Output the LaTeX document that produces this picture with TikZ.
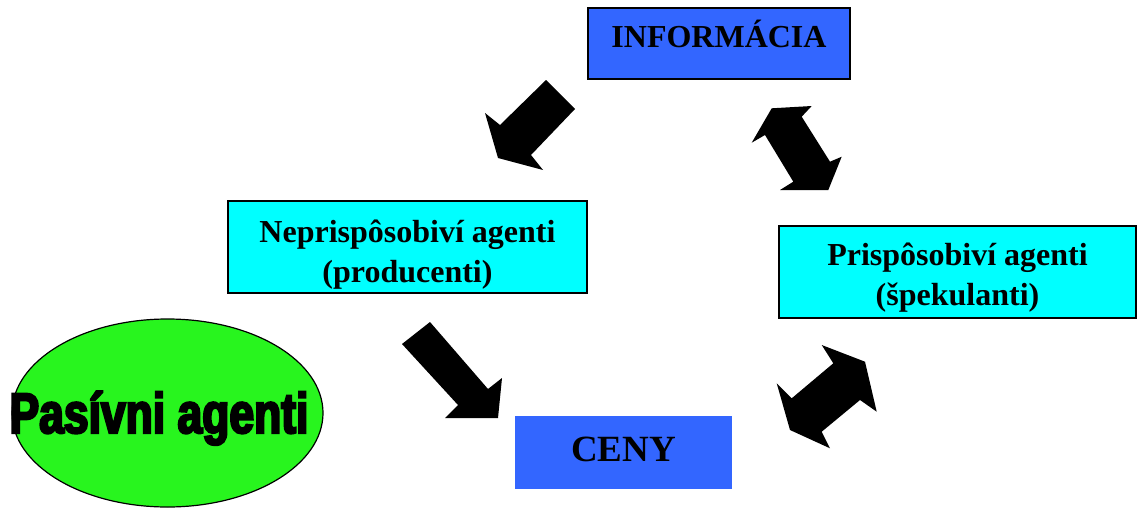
\documentclass[tikz,border=0pt]{standalone}
\usepackage{fontspec}
\setmainfont{Liberation Serif}
\newfontfamily\pasivfont[FakeStretch=0.78,FakeBold=4]{Liberation Sans Bold}
\usepackage{tikz}
\usetikzlibrary{shapes.geometric}
\definecolor{infoblue}{RGB}{51,102,255}
\definecolor{agentcyan}{RGB}{0,255,255}
\definecolor{pasivgreen}{RGB}{40,245,30}

\begin{document}
\begin{tikzpicture}[x=1pt,y=-1pt,semithick,
  box/.style={rectangle,line width=2pt,inner sep=0pt,align=center,
    font=\bfseries\fontsize{32}{40}\selectfont},
  blockarrow/.style={fill=black}]
\useasboundingbox (0,0) rectangle (1139,511);

\node[box,draw=black,fill=infoblue,minimum width=262pt,minimum height=71pt,
  text height=22pt,text depth=13pt] (info) at (719,43.5) {INFORMÁCIA};
\node[box,draw=black,fill=agentcyan,minimum width=359pt,minimum height=92pt,
  text height=75pt,text depth=5pt] (neprisp) at (407.5,247) {Neprispôsobiví agenti\\(producenti)};
\node[box,draw=black,fill=agentcyan,minimum width=357pt,minimum height=92pt,
  text height=71pt,text depth=5pt] (prisp) at (957.5,272) {Prispôsobiví agenti\\(špekulanti)};
\node[box,fill=infoblue,minimum width=217pt,minimum height=73pt,
  text height=25pt,text depth=8pt,font=\bfseries\fontsize{37}{40}\selectfont] (ceny) at (623.5,452.5) {CENY};

\node[ellipse,draw=black,line width=1.2pt,fill=pasivgreen,minimum width=311pt,minimum height=188pt] (pasiv) at (167.5,413) {};
\node[anchor=base,inner sep=0pt,font=\pasivfont\fontsize{57}{60}\selectfont] (pasivtext) at (159,433) {Pasívni agenti};

\fill[blockarrow] (546,80) -- (575,109) -- (531,155) -- (543,170) -- (498,158)
  -- (485,113) -- (500,125) -- cycle;
\fill[blockarrow] (430,322) -- (488,389) -- (502,378) -- (498,418) -- (445,418)
  -- (458,405) -- (402,344) -- cycle;
\fill[blockarrow] (771.7,108.3) -- (811.7,106) -- (801.7,116.7) -- (830,161.7)
  -- (841.7,156.7) -- (828.3,190) -- (780,190) -- (793.3,181.7) -- (765,135)
  -- (751.7,142.7) -- cycle;
\fill[blockarrow] (821.7,345) -- (865,361.7) -- (876.7,411.7) -- (860,400)
  -- (821.7,431.7) -- (830,448.3) -- (790,430) -- (776.7,383.3) -- (791.7,398.3)
  -- (833.3,363.3) -- cycle;
\end{tikzpicture}
\end{document}
